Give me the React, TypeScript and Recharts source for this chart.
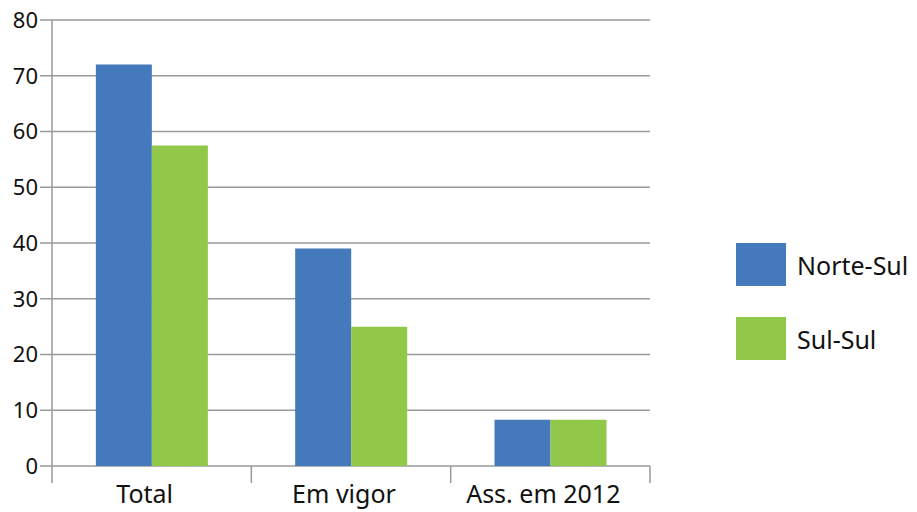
import React from 'react';
import { BarChart, Bar, XAxis, YAxis, CartesianGrid, Legend } from 'recharts';

const categories = ['Total', 'Em vigor', 'Ass. em 2012'];
const norteSul = [72, 39, 8.3];
const sulSul = [57.5, 25, 8.3];
const yTicks = [0, 10, 20, 30, 40, 50, 60, 70, 80];

const data = categories.map((name, i) => ({
  name,
  'Norte-Sul': norteSul[i],
  'Sul-Sul': sulSul[i],
}));

const FONT = '"Noto Sans", "Open Sans", sans-serif';
const AXIS = '#9a9a9a';
const LABEL_GAP = 19;

const LegendBox = (props: any) => {
  const { payload } = props;
  return (
    <div style={{ fontFamily: FONT }}>
      {(payload || []).map((p: any) => (
        <div key={p.value} style={{ display: 'flex', alignItems: 'center', height: 43, marginBottom: 31 }}>
          <div style={{ width: 50, height: 43, background: p.color }} />
          <span style={{ marginLeft: 11, fontSize: 25, color: '#111' }}>{p.value}</span>
        </div>
      ))}
    </div>
  );
};

// category label plus tick marks on the band edges
const CatTick = (props: any) => {
  const { x, y, payload, index } = props;
  const off = payload.offset || 0;
  const top = y - LABEL_GAP;
  const last = index === categories.length - 1;
  return (
    <g>
      <line x1={x - off} x2={x - off} y1={top} y2={top + 17} stroke={AXIS} strokeWidth={1.5} />
      {last && <line x1={x + off} x2={x + off} y1={top} y2={top + 17} stroke={AXIS} strokeWidth={1.5} />}
      <text x={x} y={y} dx={-7} dy="0.71em" textAnchor="middle" fontSize={25} fill="#111" fontFamily={FONT}>
        {payload.value}
      </text>
    </g>
  );
};

export default function App() {
  return (
    <div style={{ position: 'absolute', left: 0, top: 0, width: 917, height: 512, background: '#fff' }}>
      <BarChart
        width={917}
        height={512}
        data={data}
        margin={{ top: 20, right: 267, bottom: 0, left: 0 }}
        barCategoryGap="22%"
        barGap={0}
      >
        <CartesianGrid vertical={false} stroke={AXIS} strokeWidth={1.5} />
        <XAxis
          dataKey="name"
          height={46}
          axisLine={false}
          tickLine={false}
          tickSize={0}
          tickMargin={LABEL_GAP}
          tick={<CatTick />}
          interval={0}
        />
        <YAxis
          domain={[0, 80]}
          ticks={yTicks}
          width={52}
          tickSize={12}
          tickMargin={2}
          stroke={AXIS}
          strokeWidth={1.5}
          tick={{ fontSize: 22, fill: '#111', fontFamily: FONT }}
        />
        <Legend
          layout="vertical"
          align="center"
          verticalAlign="middle"
          content={<LegendBox />}
          wrapperStyle={{ left: 736, top: 243, width: 180 }}
        />
        <Bar dataKey="Norte-Sul" fill="#4479bc" isAnimationActive={false} />
        <Bar dataKey="Sul-Sul" fill="#92c84a" isAnimationActive={false} />
      </BarChart>
    </div>
  );
}
